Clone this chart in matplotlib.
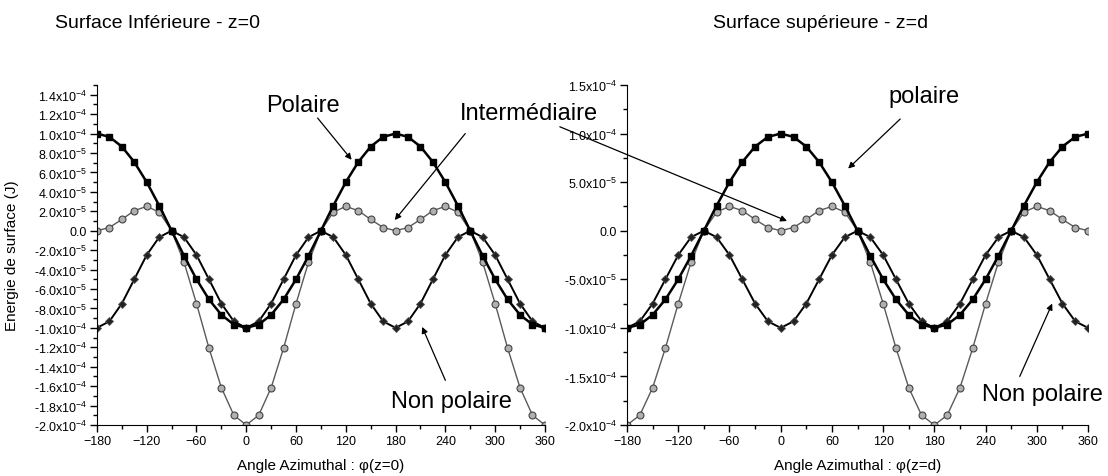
import numpy as np
import matplotlib
matplotlib.use('Agg')
import matplotlib.pyplot as plt
from matplotlib.ticker import MultipleLocator, FuncFormatter

plt.rcParams['font.family'] = ['Liberation Sans', 'DejaVu Sans']
plt.rcParams['mathtext.fontset'] = 'custom'
plt.rcParams['mathtext.rm'] = 'Liberation Sans'
plt.rcParams['mathtext.it'] = 'Liberation Sans:italic'
plt.rcParams['mathtext.bf'] = 'Liberation Sans:bold'
plt.rcParams['mathtext.default'] = 'regular'

# azimuthal angle (deg)
phi = np.arange(-180, 361, 15)

# energies in units of 1e-5 J
# z=0 (surface inferieure)
pol_inf = [10, 9.66, 8.66, 7.07, 5, 2.59, 0, -2.59, -5, -7.07, -8.66, -9.66, -10,
           -9.66, -8.66, -7.07, -5, -2.59, 0, 2.59, 5, 7.07, 8.66, 9.66, 10,
           9.66, 8.66, 7.07, 5, 2.59, 0, -2.59, -5, -7.07, -8.66, -9.66, -10]
int_inf = [0, 0.33, 1.16, 2.07, 2.5, 1.92, 0, -3.26, -7.5, -12.07, -16.16, -18.99, -20,
           -18.99, -16.16, -12.07, -7.5, -3.26, 0, 1.92, 2.5, 2.07, 1.16, 0.33, 0,
           0.33, 1.16, 2.07, 2.5, 1.92, 0, -3.26, -7.5, -12.07, -16.16, -18.99, -20]
np_inf = [-10, -9.33, -7.5, -5, -2.5, -0.67, 0, -0.67, -2.5, -5, -7.5, -9.33, -10,
          -9.33, -7.5, -5, -2.5, -0.67, 0, -0.67, -2.5, -5, -7.5, -9.33, -10,
          -9.33, -7.5, -5, -2.5, -0.67, 0, -0.67, -2.5, -5, -7.5, -9.33, -10]

# z=d (surface superieure)
pol_sup = [-10, -9.66, -8.66, -7.07, -5, -2.59, 0, 2.59, 5, 7.07, 8.66, 9.66, 10,
           9.66, 8.66, 7.07, 5, 2.59, 0, -2.59, -5, -7.07, -8.66, -9.66, -10,
           -9.66, -8.66, -7.07, -5, -2.59, 0, 2.59, 5, 7.07, 8.66, 9.66, 10]
int_sup = [-20, -18.99, -16.16, -12.07, -7.5, -3.26, 0, 1.92, 2.5, 2.07, 1.16, 0.33, 0,
           0.33, 1.16, 2.07, 2.5, 1.92, 0, -3.26, -7.5, -12.07, -16.16, -18.99, -20,
           -18.99, -16.16, -12.07, -7.5, -3.26, 0, 1.92, 2.5, 2.07, 1.16, 0.33, 0]
np_sup = [-10, -9.33, -7.5, -5, -2.5, -0.67, 0, -0.67, -2.5, -5, -7.5, -9.33, -10,
          -9.33, -7.5, -5, -2.5, -0.67, 0, -0.67, -2.5, -5, -7.5, -9.33, -10,
          -9.33, -7.5, -5, -2.5, -0.67, 0, -0.67, -2.5, -5, -7.5, -9.33, -10]

unit = 1e-5


def sci(v, pos):
    if abs(v) < 1e-12:
        return '0.0'
    e = int(np.floor(np.log10(abs(v)) + 1e-9))
    m = v / 10 ** e
    return f'{m:.1f}x10$^{{{e}}}$'


def draw(ax, pol, inter, nonp, ymaj, ymin):
    ax.plot(phi, np.array(inter) * unit, color='#5a5a5a', lw=1.0, marker='o', ms=5,
            mfc='#b0b0b0', mec='#444444', mew=0.8)
    ax.plot(phi, np.array(nonp) * unit, color='black', lw=1.4, marker='D', ms=4.5,
            mfc='#222222', mec='#555555', mew=0.6)
    ax.plot(phi, np.array(pol) * unit, color='black', lw=1.8, marker='s', ms=5,
            mfc='black', mec='black')
    ax.set_xlim(-180, 360)
    ax.set_ylim(-2e-4, 1.5e-4)
    ax.xaxis.set_major_locator(MultipleLocator(60))
    ax.xaxis.set_minor_locator(MultipleLocator(30))
    ax.yaxis.set_major_locator(MultipleLocator(ymaj))
    ax.yaxis.set_minor_locator(MultipleLocator(ymin))
    ax.yaxis.set_major_formatter(FuncFormatter(sci))
    ax.spines['top'].set_visible(False)
    ax.spines['right'].set_visible(False)
    ax.tick_params(which='major', direction='out', length=5, width=1, labelsize=9, pad=2)
    ax.tick_params(which='minor', direction='out', length=3, width=1)


fig = plt.figure(figsize=(11.08, 4.77), dpi=100)
ax1 = fig.add_axes([0.0875, 0.1069, 0.4043, 0.7128])
ax2 = fig.add_axes([0.5659, 0.1069, 0.4161, 0.7128])

draw(ax1, pol_inf, int_inf, np_inf, 2e-5, 1e-5)
ax1.set_yticks(np.arange(-20, 15, 2) * unit)
draw(ax2, pol_sup, int_sup, np_sup, 5e-5, 2.5e-5)

ax1.set_xlabel('Angle Azimuthal : φ(z=0)', fontsize=11, labelpad=8)
ax2.set_xlabel('Angle Azimuthal : φ(z=d)', fontsize=11, labelpad=8)
fig.text(12 / 1108, 1 - 256 / 477, 'Energie de surface (J)', rotation=90,
         ha='center', va='center', fontsize=11)

fig.text(55 / 1108, 1 - 23 / 477, 'Surface Inférieure - z=0', ha='left', va='center', fontsize=14)
fig.text(713 / 1108, 1 - 24 / 477, 'Surface supérieure - z=d', ha='left', va='center', fontsize=14)

arrow = dict(arrowstyle='-|>', color='black', lw=0.9, mutation_scale=9, shrinkA=0, shrinkB=0)
big = 17

# left panel labels
ax1.text(68, 1.29e-4, 'Polaire', fontsize=big, ha='center', va='center')
ax1.annotate('', xy=(127, 0.73e-4), xytext=(86, 1.16e-4), arrowprops=arrow)
ax1.text(341, 1.21e-4, 'Intermédiaire', fontsize=big, ha='center', va='center', clip_on=False)
ax1.annotate('', xy=(179, 0.11e-4), xytext=(264, 1.0e-4), arrowprops=arrow)
ax1.text(247, -1.75e-4, 'Non polaire', fontsize=big, ha='center', va='center')
ax1.annotate('', xy=(212, -0.99e-4), xytext=(240, -1.54e-4), arrowprops=arrow)

# long arrow from "Intermédiaire" to right panel
ax2.annotate('', xy=(7.4, 0.1e-4), xycoords='data', xytext=(378, 1.07e-4),
             textcoords=ax1.transData, arrowprops=arrow, annotation_clip=False)

# right panel labels
ax2.text(168, 1.39e-4, 'polaire', fontsize=big, ha='center', va='center')
ax2.annotate('', xy=(79, 0.64e-4), xytext=(140, 1.15e-4), arrowprops=arrow)
ax2.text(307, -1.68e-4, 'Non polaire', fontsize=big, ha='center', va='center', clip_on=False)
ax2.annotate('', xy=(318, -0.75e-4), xytext=(280, -1.5e-4), arrowprops=arrow)

fig.savefig('out.png', dpi=100)
